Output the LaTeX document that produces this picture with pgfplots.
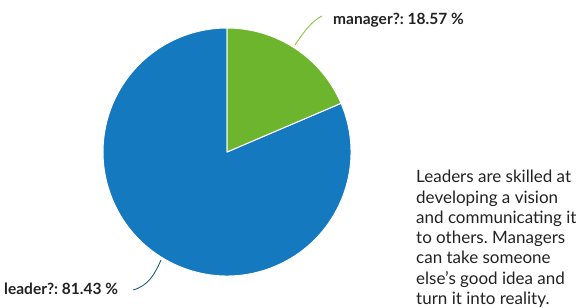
\documentclass[border=0pt]{standalone}
\usepackage{pgfplots}
\pgfplotsset{compat=1.18}
\usepackage{pgfplotstable}
\usepackage{fontspec}
\setmainfont{Lato}
\frenchspacing
\definecolor{pieblue}{HTML}{1479BE}
\definecolor{piegreen}{HTML}{6CB52D}
\definecolor{leadline}{HTML}{1F5F80}
\definecolor{manline}{HTML}{8CC63F}
\definecolor{txt}{HTML}{222222}
\pgfplotstableread{
label value
manager 18.57
leader 81.43
}\piedata
\begin{document}
\begin{tikzpicture}
\pgfplotstablegetelem{0}{value}\of\piedata \let\mval\pgfplotsretval
\pgfplotstablegetelem{1}{value}\of\piedata \let\lval\pgfplotsretval
\pgfmathsetmacro\mend{90-\mval*3.6}
\pgfmathsetmacro\lend{\mend-\lval*3.6}
\begin{axis}[x=1pt,y=1pt,xmin=0,xmax=579,ymin=0,ymax=308,
  hide axis, clip=false, scale only axis, anchor=origin, at={(0,0)}]
\path (axis cs:0,0) rectangle (axis cs:579,308);
% wedges
\fill[pieblue, draw=white, line width=1pt, line join=round] (axis cs:227,156) -- ++(\mend:124pt) arc[start angle=\mend, end angle=\lend, radius=124pt] -- cycle;
\fill[piegreen, draw=white, line width=1pt, line join=round] (axis cs:227,156) -- ++(90:124pt) arc[start angle=90, end angle=\mend, radius=124pt] -- cycle;
% leader lines
\draw[manline, line width=0.9pt] (axis cs:295,263) .. controls (axis cs:305,278) and (axis cs:312,287) .. (axis cs:322,292);
\draw[leadline, line width=0.9pt] (axis cs:161,48) .. controls (axis cs:155,34) and (axis cs:148,22) .. (axis cs:133,18);
% labels
\node[anchor=base west, inner sep=0, font=\fontsize{15.5}{18}\selectfont\bfseries, text=txt] at (axis cs:333,283) {manager?: \mval\ \%};
\node[anchor=base west, inner sep=0, font=\fontsize{15.5}{18}\selectfont\bfseries, text=txt] at (axis cs:4,13) {leader?: \lval\ \%};
\node[anchor=north west, inner sep=0, align=left, font=\fontsize{17}{20.3}\selectfont, text=txt] at (axis cs:416,138) {Leaders are skilled at\\developing a vision\\and communicating it\\to others. Managers\\can take someone\\else's good idea and\\turn it into reality.};
\end{axis}
\end{tikzpicture}
\end{document}
